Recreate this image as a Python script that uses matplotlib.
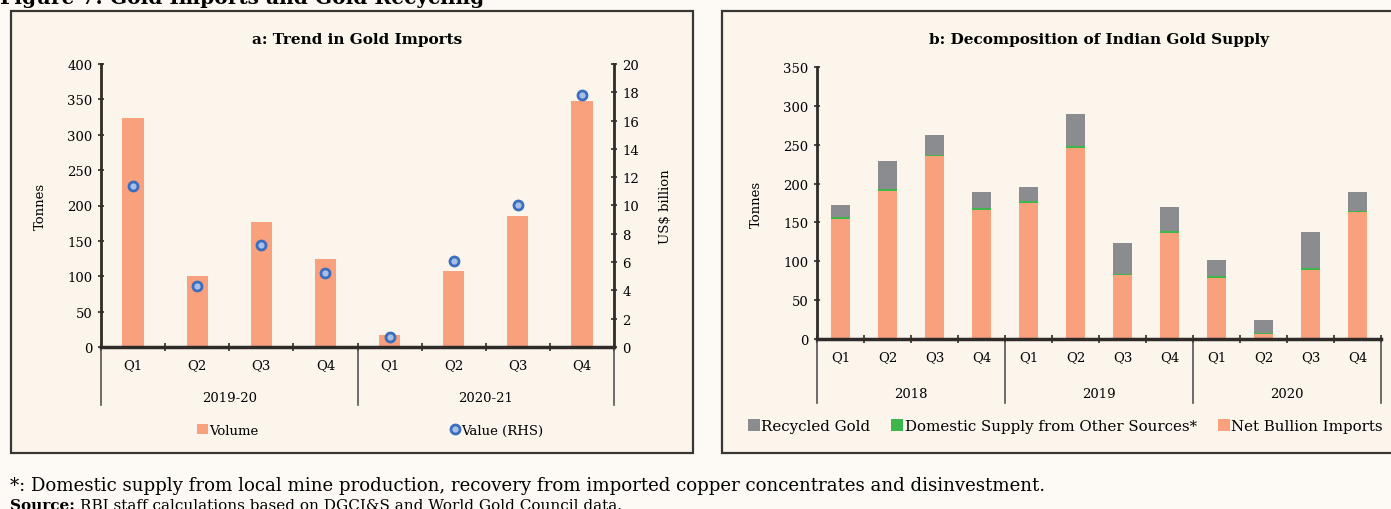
"""
Gold imports and gold recycling: two-panel recreation.
"""
import numpy as np
import matplotlib
matplotlib.use('Agg')
import matplotlib.pyplot as plt
from matplotlib.patches import Rectangle
from matplotlib.lines import Line2D
from matplotlib.transforms import blended_transform_factory

# ---- data: panel a ----
quarters_a = ['Q1', 'Q2', 'Q3', 'Q4', 'Q1', 'Q2', 'Q3', 'Q4']
years_a = ['2019-20', '2020-21']
volume_t = [323, 100, 177, 125, 17, 107, 185, 347]           # tonnes
value_bn = [11.4, 4.3, 7.2, 5.2, 0.7, 6.1, 10.0, 17.8]       # US$ billion

# ---- data: panel b ----
quarters_b = ['Q1', 'Q2', 'Q3', 'Q4'] * 3
years_b = ['2018', '2019', '2020']
net_bullion = [155, 191, 235, 166, 175, 246, 82, 137, 79, 7, 89, 163]
domestic_other = [2, 2, 2, 3, 2, 2, 1, 2, 2, 1, 3, 2]
recycled = [16, 36, 26, 20, 19, 41, 40, 31, 21, 17, 46, 24]

ORANGE = '#F9A07D'
GREY = '#8B8C90'
GREEN = '#3DB64B'
DARK = '#2E2B28'
CREAM = '#FBF5EB'
SERIF = 'DejaVu Serif'

plt.rcParams['font.family'] = SERIF
plt.rcParams['font.size'] = 9.5

fig = plt.figure(figsize=(13.91, 5.10), dpi=100, facecolor='#FDFAF5')

# panel frames
for x0, w in [(11, 682), (722, 690)]:
    fig.patches.append(Rectangle((x0 / 1391, 1 - 454 / 510), w / 1391, 442 / 510,
                                 transform=fig.transFigure, facecolor=CREAM,
                                 edgecolor='#3A3633', linewidth=1.6, zorder=-5))

fig.text(0.0, 1.003, 'Figure 7: Gold Imports and Gold Recycling', fontsize=14.5,
         fontweight='bold', ha='left', va='center')
fig.text(10 / 1391, 1 - 486 / 510,
         '*: Domestic supply from local mine production, recovery from imported copper '
         'concentrates and disinvestment.', fontsize=13.1, ha='left', va='center')
src = fig.text(10 / 1391, 1 - 506 / 510, 'Source:', fontsize=11, fontweight='bold',
               ha='left', va='center')
fig.canvas.draw()
src_right = src.get_window_extent().x1 / 1391
fig.text(src_right + 5 / 1391, 1 - 506 / 510,
         'RBI staff calculations based on DGCI&S and World Gold Council data.',
         fontsize=11, ha='left', va='center')


def style_axis(ax, n):
    ax.set_facecolor('none')
    for s in ['top', 'right']:
        ax.spines[s].set_visible(False)
    ax.spines['left'].set_linewidth(2)
    ax.spines['bottom'].set_linewidth(2.5)
    ax.spines['left'].set_color(DARK)
    ax.spines['bottom'].set_color(DARK)
    ax.set_xlim(-0.5, n - 0.5)
    ax.set_xticks(range(n))
    ax.set_xticks(np.arange(-0.5, n, 1.0), minor=True)
    ax.tick_params(axis='x', which='major', length=0, pad=8)
    ax.tick_params(axis='x', which='minor', length=6, width=1.2, direction='inout', color=DARK)
    ax.tick_params(axis='y', length=5, width=1.2, direction='inout', color=DARK)


def group_labels(ax, years, per, y_text, y_line):
    tr = blended_transform_factory(ax.transData, ax.transAxes)
    n = len(years) * per
    for i, yr in enumerate(years):
        ax.text(i * per + (per - 1) / 2, y_text, yr, transform=tr, ha='center', va='center')
    for b in np.arange(-0.5, n, per):
        ax.add_line(Line2D([b, b], [0, y_line], transform=tr, color='#555555',
                           linewidth=1.2, clip_on=False))


# ---- panel a ----
axa = fig.add_axes([101 / 1391, 1 - 348 / 510, 513 / 1391, 283 / 510])
style_axis(axa, len(quarters_a))
xa = np.arange(len(quarters_a))
axa.bar(xa, volume_t, width=0.33, color=ORANGE, label='Volume', zorder=2)
axa.set_ylim(0, 400)
axa.set_yticks(range(0, 401, 50))
axa.set_xticklabels(quarters_a)
axa.set_ylabel('Tonnes', labelpad=15)
axa.set_title('a: Trend in Gold Imports', fontweight='bold', fontsize=11, pad=15)
group_labels(axa, years_a, 4, -0.18, -0.205)

axa2 = axa.twinx()
axa2.set_facecolor('none')
for s in ['top', 'left', 'bottom']:
    axa2.spines[s].set_visible(False)
axa2.spines['right'].set_linewidth(2)
axa2.spines['right'].set_color(DARK)
axa2.plot(xa, value_bn, linestyle='none', marker='o', markersize=6.5,
          markerfacecolor='#A8C0E6', markeredgecolor='#3D6DBF', markeredgewidth=2,
          label='Value (RHS)', zorder=3)
axa2.set_ylim(0, 20)
axa2.set_yticks(range(0, 21, 2))
axa2.tick_params(axis='y', length=5, width=1.2, direction='inout', color=DARK)
axa2.set_ylabel('US$ billion', labelpad=14)

h1, l1 = axa.get_legend_handles_labels()
h2, l2 = axa2.get_legend_handles_labels()
axa.legend(h1 + h2, l1 + l2, loc='center', bbox_to_anchor=(0.525, -0.295), ncol=2,
           frameon=False, handlelength=0.8, handleheight=0.8, handletextpad=0.1,
           columnspacing=14.5, fontsize=9.5)

# ---- panel b ----
axb = fig.add_axes([817 / 1391, 1 - 340 / 510, 564 / 1391, 272 / 510])
style_axis(axb, len(quarters_b))
xb = np.arange(len(quarters_b))
net = np.array(net_bullion)
dom = np.array(domestic_other)
rec = np.array(recycled)
axb.bar(xb, net, width=0.42, color=ORANGE, label='Net Bullion Imports', zorder=2)
axb.bar(xb, dom, width=0.42, bottom=net, color=GREEN,
        label='Domestic Supply from Other Sources*', zorder=2)
axb.bar(xb, rec, width=0.42, bottom=net + dom, color=GREY, label='Recycled Gold', zorder=2)
axb.set_ylim(0, 350)
axb.set_yticks(range(0, 351, 50))
axb.set_xticklabels(quarters_b)
axb.set_ylabel('Tonnes', labelpad=15)
axb.set_title('b: Decomposition of Indian Gold Supply', fontweight='bold', fontsize=11, pad=17)
group_labels(axb, years_b, 4, -0.2, -0.235)

hb, lb = axb.get_legend_handles_labels()
axb.legend(hb[::-1], lb[::-1], loc='center', bbox_to_anchor=(0.44, -0.32), ncol=3,
           frameon=False, handlelength=0.8, handleheight=0.8, handletextpad=0.1,
           columnspacing=1.4, fontsize=10.8)

fig.savefig('out.png', dpi=100, facecolor=fig.get_facecolor())
